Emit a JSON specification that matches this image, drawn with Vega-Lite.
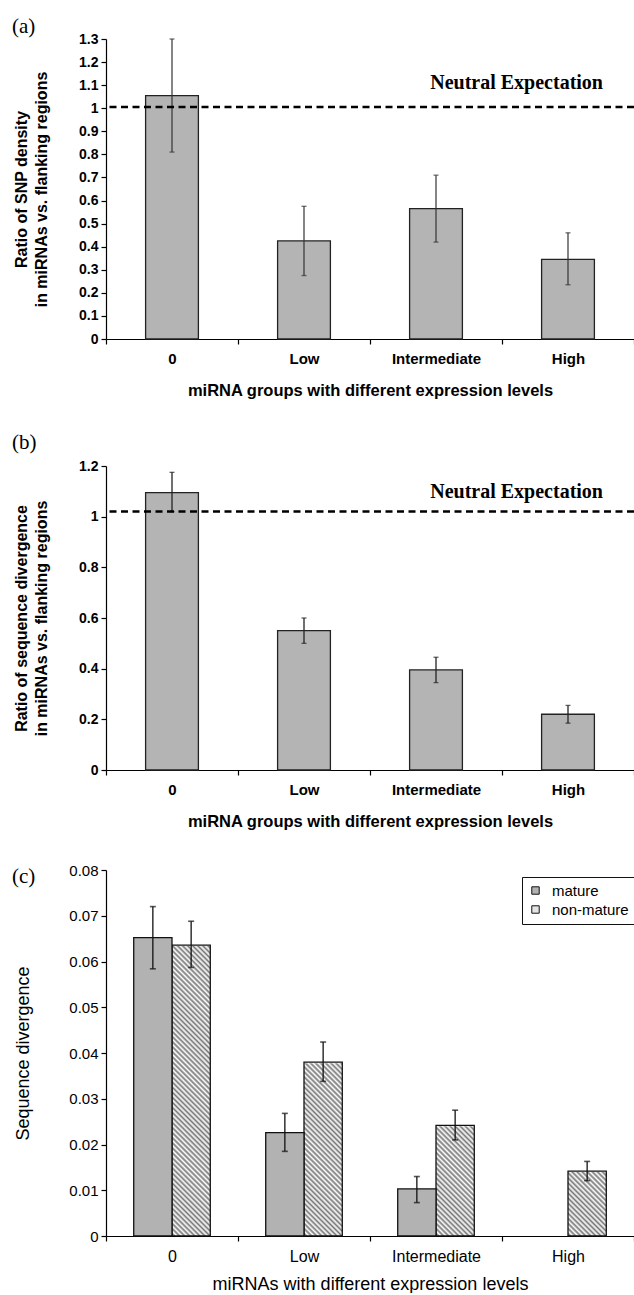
{
  "$schema": "https://vega.github.io/schema/vega-lite/v6.json",
  "padding": {"left": 12, "top": 16, "right": 0, "bottom": 0},
  "spacing": 33,
  "resolve": {"legend": {"color": "independent"}, "scale": {"color": "independent"}},
  "config": {
    "view": {"stroke": null},
    "font": "Liberation Sans",
    "axis": {"domainColor": "black", "tickColor": "black", "labelColor": "black", "titleColor": "black", "grid": false, "domainWidth": 1.2, "tickWidth": 1.2}
  },
  "vconcat": [
    {
      "title": {"text": "(a)", "anchor": "start", "frame": "group", "dx": -94, "font": "Liberation Serif", "fontSize": 21, "fontWeight": "normal", "offset": -5, "color": "black"},
      "width": 528,
      "height": 300,
      "layer": [
        {
          "data": {"values": [
            {"group": "0", "ratio": 1.055, "lo": 0.81, "hi": 1.30},
            {"group": "Low", "ratio": 0.425, "lo": 0.275, "hi": 0.575},
            {"group": "Intermediate", "ratio": 0.565, "lo": 0.42, "hi": 0.71},
            {"group": "High", "ratio": 0.345, "lo": 0.235, "hi": 0.46}
          ]},
          "layer": [
            {
              "mark": {"type": "bar", "width": {"band": 0.4}, "fill": "#b4b4b4", "stroke": "#222", "strokeWidth": 1.3},
              "encoding": {
                "x": {"field": "group", "type": "nominal", "sort": null,
                  "scale": {"domain": ["0", "Low", "Intermediate", "High"], "paddingInner": 0, "paddingOuter": 0},
                  "axis": {"title": "miRNA groups with different expression levels", "labelAngle": 0, "tickBand": "extent", "tickSize": 5, "labelPadding": 7, "labelFontSize": 15, "labelFontWeight": "bold", "titleFontSize": 16.5, "titleFontWeight": "bold", "titlePadding": 16}},
                "y": {"field": "ratio", "type": "quantitative",
                  "scale": {"domain": [0, 1.3], "nice": false, "zero": true},
                  "axis": {"title": ["Ratio of SNP density", "in miRNAs vs. flanking regions"], "values": [0, 0.1, 0.2, 0.3, 0.4, 0.5, 0.6, 0.7, 0.8, 0.9, 1, 1.1, 1.2, 1.3], "format": ".1~f", "labelFontSize": 14, "labelFontWeight": "bold", "titleFontSize": 16, "titleFontWeight": "bold", "titleLineHeight": 20, "titlePadding": 29, "tickSize": 5, "labelPadding": 3}}
              }
            },
            {
              "mark": {"type": "rule", "stroke": "#333", "strokeWidth": 1.2},
              "encoding": {
                "x": {"field": "group", "type": "nominal", "sort": null},
                "y": {"field": "lo", "type": "quantitative",
                  "axis": {"title": ["Ratio of SNP density", "in miRNAs vs. flanking regions"], "values": [0, 0.1, 0.2, 0.3, 0.4, 0.5, 0.6, 0.7, 0.8, 0.9, 1, 1.1, 1.2, 1.3], "format": ".1~f", "labelFontSize": 14, "labelFontWeight": "bold", "titleFontSize": 16, "titleFontWeight": "bold", "titleLineHeight": 20, "titlePadding": 29, "tickSize": 5, "labelPadding": 3}},
                "y2": {"field": "hi"}
              }
            },
            {
              "mark": {"type": "tick", "orient": "horizontal", "size": 5, "thickness": 1.3, "color": "#333"},
              "encoding": {
                "x": {"field": "group", "type": "nominal", "sort": null},
                "y": {"field": "lo", "type": "quantitative",
                  "axis": {"title": ["Ratio of SNP density", "in miRNAs vs. flanking regions"], "values": [0, 0.1, 0.2, 0.3, 0.4, 0.5, 0.6, 0.7, 0.8, 0.9, 1, 1.1, 1.2, 1.3], "format": ".1~f", "labelFontSize": 14, "labelFontWeight": "bold", "titleFontSize": 16, "titleFontWeight": "bold", "titleLineHeight": 20, "titlePadding": 29, "tickSize": 5, "labelPadding": 3}}
              }
            },
            {
              "mark": {"type": "tick", "orient": "horizontal", "size": 5, "thickness": 1.3, "color": "#333"},
              "encoding": {
                "x": {"field": "group", "type": "nominal", "sort": null},
                "y": {"field": "hi", "type": "quantitative",
                  "axis": {"title": ["Ratio of SNP density", "in miRNAs vs. flanking regions"], "values": [0, 0.1, 0.2, 0.3, 0.4, 0.5, 0.6, 0.7, 0.8, 0.9, 1, 1.1, 1.2, 1.3], "format": ".1~f", "labelFontSize": 14, "labelFontWeight": "bold", "titleFontSize": 16, "titleFontWeight": "bold", "titleLineHeight": 20, "titlePadding": 29, "tickSize": 5, "labelPadding": 3}}
              }
            }
          ]
        },
        {
          "data": {"values": [{"label": "Neutral Expectation", "level": 1.005}]},
          "layer": [
            {
              "mark": {"type": "rule", "strokeDash": [7, 4.5], "strokeWidth": 2.5, "color": "black"},
              "encoding": {"y": {"field": "level", "type": "quantitative",
                "axis": {"title": ["Ratio of SNP density", "in miRNAs vs. flanking regions"], "values": [0, 0.1, 0.2, 0.3, 0.4, 0.5, 0.6, 0.7, 0.8, 0.9, 1, 1.1, 1.2, 1.3], "format": ".1~f", "labelFontSize": 14, "labelFontWeight": "bold", "titleFontSize": 16, "titleFontWeight": "bold", "titleLineHeight": 20, "titlePadding": 29, "tickSize": 5, "labelPadding": 3}}}
            },
            {
              "mark": {"type": "text", "font": "Liberation Serif", "fontWeight": "bold", "fontSize": 20, "align": "right", "baseline": "middle", "dx": 35, "dy": -24, "color": "black"},
              "encoding": {
                "x": {"datum": "High", "type": "nominal"},
                "y": {"field": "level", "type": "quantitative",
                  "axis": {"title": ["Ratio of SNP density", "in miRNAs vs. flanking regions"], "values": [0, 0.1, 0.2, 0.3, 0.4, 0.5, 0.6, 0.7, 0.8, 0.9, 1, 1.1, 1.2, 1.3], "format": ".1~f", "labelFontSize": 14, "labelFontWeight": "bold", "titleFontSize": 16, "titleFontWeight": "bold", "titleLineHeight": 20, "titlePadding": 29, "tickSize": 5, "labelPadding": 3}},
                "text": {"field": "label"}
              }
            }
          ]
        }
      ]
    },
    {
      "title": {"text": "(b)", "anchor": "start", "frame": "group", "dx": -94, "font": "Liberation Serif", "fontSize": 21, "fontWeight": "normal", "offset": 6, "color": "black"},
      "width": 528,
      "height": 304,
      "layer": [
        {
          "data": {"values": [
            {"group": "0", "ratio": 1.095, "lo": 1.02, "hi": 1.175},
            {"group": "Low", "ratio": 0.55, "lo": 0.50, "hi": 0.60},
            {"group": "Intermediate", "ratio": 0.395, "lo": 0.345, "hi": 0.445},
            {"group": "High", "ratio": 0.22, "lo": 0.185, "hi": 0.255}
          ]},
          "layer": [
            {
              "mark": {"type": "bar", "width": {"band": 0.4}, "fill": "#b4b4b4", "stroke": "#222", "strokeWidth": 1.3},
              "encoding": {
                "x": {"field": "group", "type": "nominal", "sort": null,
                  "scale": {"domain": ["0", "Low", "Intermediate", "High"], "paddingInner": 0, "paddingOuter": 0},
                  "axis": {"title": "miRNA groups with different expression levels", "labelAngle": 0, "tickBand": "extent", "tickSize": 5, "labelPadding": 7, "labelFontSize": 15, "labelFontWeight": "bold", "titleFontSize": 16.5, "titleFontWeight": "bold", "titlePadding": 16}},
                "y": {"field": "ratio", "type": "quantitative",
                  "scale": {"domain": [0, 1.2], "nice": false, "zero": true},
                  "axis": {"title": ["Ratio of sequence divergence", "in miRNAs vs. flanking regions"], "values": [0, 0.2, 0.4, 0.6, 0.8, 1, 1.2], "format": ".1~f", "labelFontSize": 14, "labelFontWeight": "bold", "titleFontSize": 16, "titleFontWeight": "bold", "titleLineHeight": 20, "titlePadding": 29, "tickSize": 5, "labelPadding": 3}}
              }
            },
            {
              "mark": {"type": "rule", "stroke": "#222", "strokeWidth": 1.3},
              "encoding": {
                "x": {"field": "group", "type": "nominal", "sort": null},
                "y": {"field": "lo", "type": "quantitative",
                  "axis": {"title": ["Ratio of sequence divergence", "in miRNAs vs. flanking regions"], "values": [0, 0.2, 0.4, 0.6, 0.8, 1, 1.2], "format": ".1~f", "labelFontSize": 14, "labelFontWeight": "bold", "titleFontSize": 16, "titleFontWeight": "bold", "titleLineHeight": 20, "titlePadding": 29, "tickSize": 5, "labelPadding": 3}},
                "y2": {"field": "hi"}
              }
            },
            {
              "mark": {"type": "tick", "orient": "horizontal", "size": 5, "thickness": 1.3, "color": "#222"},
              "encoding": {
                "x": {"field": "group", "type": "nominal", "sort": null},
                "y": {"field": "lo", "type": "quantitative",
                  "axis": {"title": ["Ratio of sequence divergence", "in miRNAs vs. flanking regions"], "values": [0, 0.2, 0.4, 0.6, 0.8, 1, 1.2], "format": ".1~f", "labelFontSize": 14, "labelFontWeight": "bold", "titleFontSize": 16, "titleFontWeight": "bold", "titleLineHeight": 20, "titlePadding": 29, "tickSize": 5, "labelPadding": 3}}
              }
            },
            {
              "mark": {"type": "tick", "orient": "horizontal", "size": 5, "thickness": 1.3, "color": "#222"},
              "encoding": {
                "x": {"field": "group", "type": "nominal", "sort": null},
                "y": {"field": "hi", "type": "quantitative",
                  "axis": {"title": ["Ratio of sequence divergence", "in miRNAs vs. flanking regions"], "values": [0, 0.2, 0.4, 0.6, 0.8, 1, 1.2], "format": ".1~f", "labelFontSize": 14, "labelFontWeight": "bold", "titleFontSize": 16, "titleFontWeight": "bold", "titleLineHeight": 20, "titlePadding": 29, "tickSize": 5, "labelPadding": 3}}
              }
            }
          ]
        },
        {
          "data": {"values": [{"label": "Neutral Expectation", "level": 1.02}]},
          "layer": [
            {
              "mark": {"type": "rule", "strokeDash": [7, 4.5], "strokeWidth": 2.5, "color": "black"},
              "encoding": {"y": {"field": "level", "type": "quantitative",
                "axis": {"title": ["Ratio of sequence divergence", "in miRNAs vs. flanking regions"], "values": [0, 0.2, 0.4, 0.6, 0.8, 1, 1.2], "format": ".1~f", "labelFontSize": 14, "labelFontWeight": "bold", "titleFontSize": 16, "titleFontWeight": "bold", "titleLineHeight": 20, "titlePadding": 29, "tickSize": 5, "labelPadding": 3}}}
            },
            {
              "mark": {"type": "text", "font": "Liberation Serif", "fontWeight": "bold", "fontSize": 20, "align": "right", "baseline": "middle", "dx": 35, "dy": -20, "color": "black"},
              "encoding": {
                "x": {"datum": "High", "type": "nominal"},
                "y": {"field": "level", "type": "quantitative",
                  "axis": {"title": ["Ratio of sequence divergence", "in miRNAs vs. flanking regions"], "values": [0, 0.2, 0.4, 0.6, 0.8, 1, 1.2], "format": ".1~f", "labelFontSize": 14, "labelFontWeight": "bold", "titleFontSize": 16, "titleFontWeight": "bold", "titleLineHeight": 20, "titlePadding": 29, "tickSize": 5, "labelPadding": 3}},
                "text": {"field": "label"}
              }
            }
          ]
        }
      ]
    },
    {
      "title": {"text": "(c)", "anchor": "start", "frame": "group", "dx": -94, "font": "Liberation Serif", "fontSize": 21, "fontWeight": "normal", "offset": -24, "color": "black"},
      "width": 528,
      "height": 366,
      "data": {"values": [
        {"group": "0", "type": "mature", "value": 0.0652, "lo": 0.0584, "hi": 0.0720},
        {"group": "0", "type": "non-mature", "value": 0.0636, "lo": 0.0587, "hi": 0.0688},
        {"group": "Low", "type": "mature", "value": 0.0226, "lo": 0.0185, "hi": 0.0268},
        {"group": "Low", "type": "non-mature", "value": 0.0380, "lo": 0.0338, "hi": 0.0424},
        {"group": "Intermediate", "type": "mature", "value": 0.0103, "lo": 0.0073, "hi": 0.0130},
        {"group": "Intermediate", "type": "non-mature", "value": 0.0242, "lo": 0.0210, "hi": 0.0275},
        {"group": "High", "type": "non-mature", "value": 0.0142, "lo": 0.0121, "hi": 0.0163}
      ]},
      "encoding": {
        "x": {"field": "group", "type": "nominal", "sort": null,
          "scale": {"domain": ["0", "Low", "Intermediate", "High"], "paddingInner": 0, "paddingOuter": 0},
          "axis": {"title": "miRNAs with different expression levels", "labelAngle": 0, "tickBand": "extent", "tickSize": 5, "labelPadding": 7, "labelFontSize": 16, "titleFontSize": 18, "titleFontWeight": "normal", "titlePadding": 11}},
        "xOffset": {"field": "type", "type": "nominal", "scale": {"domain": ["mature", "non-mature"], "paddingInner": 0, "paddingOuter": 0.724}}
      },
      "layer": [
        {
          "transform": [{"filter": "datum.type === 'non-mature'"}],
          "mark": {"type": "bar", "strokeWidth": 0, "fill": {"gradient": "linear", "x1": 0, "y1": 1, "x2": 0.114, "y2": -0.093, "stops": [
            {"offset": 0, "color": "#fff"}, {"offset": 0.00625, "color": "#777"}, {"offset": 0.0125, "color": "#fff"}, {"offset": 0.01875, "color": "#777"}, {"offset": 0.025, "color": "#fff"}, {"offset": 0.03125, "color": "#777"}, {"offset": 0.0375, "color": "#fff"}, {"offset": 0.04375, "color": "#777"}, {"offset": 0.05, "color": "#fff"}, {"offset": 0.05625, "color": "#777"}, {"offset": 0.0625, "color": "#fff"}, {"offset": 0.06875, "color": "#777"}, {"offset": 0.075, "color": "#fff"}, {"offset": 0.08125, "color": "#777"}, {"offset": 0.0875, "color": "#fff"}, {"offset": 0.09375, "color": "#777"},
            {"offset": 0.1, "color": "#fff"}, {"offset": 0.10625, "color": "#777"}, {"offset": 0.1125, "color": "#fff"}, {"offset": 0.11875, "color": "#777"}, {"offset": 0.125, "color": "#fff"}, {"offset": 0.13125, "color": "#777"}, {"offset": 0.1375, "color": "#fff"}, {"offset": 0.14375, "color": "#777"}, {"offset": 0.15, "color": "#fff"}, {"offset": 0.15625, "color": "#777"}, {"offset": 0.1625, "color": "#fff"}, {"offset": 0.16875, "color": "#777"}, {"offset": 0.175, "color": "#fff"}, {"offset": 0.18125, "color": "#777"}, {"offset": 0.1875, "color": "#fff"}, {"offset": 0.19375, "color": "#777"},
            {"offset": 0.2, "color": "#fff"}, {"offset": 0.20625, "color": "#777"}, {"offset": 0.2125, "color": "#fff"}, {"offset": 0.21875, "color": "#777"}, {"offset": 0.225, "color": "#fff"}, {"offset": 0.23125, "color": "#777"}, {"offset": 0.2375, "color": "#fff"}, {"offset": 0.24375, "color": "#777"}, {"offset": 0.25, "color": "#fff"}, {"offset": 0.25625, "color": "#777"}, {"offset": 0.2625, "color": "#fff"}, {"offset": 0.26875, "color": "#777"}, {"offset": 0.275, "color": "#fff"}, {"offset": 0.28125, "color": "#777"}, {"offset": 0.2875, "color": "#fff"}, {"offset": 0.29375, "color": "#777"},
            {"offset": 0.3, "color": "#fff"}, {"offset": 0.30625, "color": "#777"}, {"offset": 0.3125, "color": "#fff"}, {"offset": 0.31875, "color": "#777"}, {"offset": 0.325, "color": "#fff"}, {"offset": 0.33125, "color": "#777"}, {"offset": 0.3375, "color": "#fff"}, {"offset": 0.34375, "color": "#777"}, {"offset": 0.35, "color": "#fff"}, {"offset": 0.35625, "color": "#777"}, {"offset": 0.3625, "color": "#fff"}, {"offset": 0.36875, "color": "#777"}, {"offset": 0.375, "color": "#fff"}, {"offset": 0.38125, "color": "#777"}, {"offset": 0.3875, "color": "#fff"}, {"offset": 0.39375, "color": "#777"},
            {"offset": 0.4, "color": "#fff"}, {"offset": 0.40625, "color": "#777"}, {"offset": 0.4125, "color": "#fff"}, {"offset": 0.41875, "color": "#777"}, {"offset": 0.425, "color": "#fff"}, {"offset": 0.43125, "color": "#777"}, {"offset": 0.4375, "color": "#fff"}, {"offset": 0.44375, "color": "#777"}, {"offset": 0.45, "color": "#fff"}, {"offset": 0.45625, "color": "#777"}, {"offset": 0.4625, "color": "#fff"}, {"offset": 0.46875, "color": "#777"}, {"offset": 0.475, "color": "#fff"}, {"offset": 0.48125, "color": "#777"}, {"offset": 0.4875, "color": "#fff"}, {"offset": 0.49375, "color": "#777"},
            {"offset": 0.5, "color": "#fff"}, {"offset": 0.50625, "color": "#777"}, {"offset": 0.5125, "color": "#fff"}, {"offset": 0.51875, "color": "#777"}, {"offset": 0.525, "color": "#fff"}, {"offset": 0.53125, "color": "#777"}, {"offset": 0.5375, "color": "#fff"}, {"offset": 0.54375, "color": "#777"}, {"offset": 0.55, "color": "#fff"}, {"offset": 0.55625, "color": "#777"}, {"offset": 0.5625, "color": "#fff"}, {"offset": 0.56875, "color": "#777"}, {"offset": 0.575, "color": "#fff"}, {"offset": 0.58125, "color": "#777"}, {"offset": 0.5875, "color": "#fff"}, {"offset": 0.59375, "color": "#777"},
            {"offset": 0.6, "color": "#fff"}, {"offset": 0.60625, "color": "#777"}, {"offset": 0.6125, "color": "#fff"}, {"offset": 0.61875, "color": "#777"}, {"offset": 0.625, "color": "#fff"}, {"offset": 0.63125, "color": "#777"}, {"offset": 0.6375, "color": "#fff"}, {"offset": 0.64375, "color": "#777"}, {"offset": 0.65, "color": "#fff"}, {"offset": 0.65625, "color": "#777"}, {"offset": 0.6625, "color": "#fff"}, {"offset": 0.66875, "color": "#777"}, {"offset": 0.675, "color": "#fff"}, {"offset": 0.68125, "color": "#777"}, {"offset": 0.6875, "color": "#fff"}, {"offset": 0.69375, "color": "#777"},
            {"offset": 0.7, "color": "#fff"}, {"offset": 0.70625, "color": "#777"}, {"offset": 0.7125, "color": "#fff"}, {"offset": 0.71875, "color": "#777"}, {"offset": 0.725, "color": "#fff"}, {"offset": 0.73125, "color": "#777"}, {"offset": 0.7375, "color": "#fff"}, {"offset": 0.74375, "color": "#777"}, {"offset": 0.75, "color": "#fff"}, {"offset": 0.75625, "color": "#777"}, {"offset": 0.7625, "color": "#fff"}, {"offset": 0.76875, "color": "#777"}, {"offset": 0.775, "color": "#fff"}, {"offset": 0.78125, "color": "#777"}, {"offset": 0.7875, "color": "#fff"}, {"offset": 0.79375, "color": "#777"},
            {"offset": 0.8, "color": "#fff"}, {"offset": 0.80625, "color": "#777"}, {"offset": 0.8125, "color": "#fff"}, {"offset": 0.81875, "color": "#777"}, {"offset": 0.825, "color": "#fff"}, {"offset": 0.83125, "color": "#777"}, {"offset": 0.8375, "color": "#fff"}, {"offset": 0.84375, "color": "#777"}, {"offset": 0.85, "color": "#fff"}, {"offset": 0.85625, "color": "#777"}, {"offset": 0.8625, "color": "#fff"}, {"offset": 0.86875, "color": "#777"}, {"offset": 0.875, "color": "#fff"}, {"offset": 0.88125, "color": "#777"}, {"offset": 0.8875, "color": "#fff"}, {"offset": 0.89375, "color": "#777"},
            {"offset": 0.9, "color": "#fff"}, {"offset": 0.90625, "color": "#777"}, {"offset": 0.9125, "color": "#fff"}, {"offset": 0.91875, "color": "#777"}, {"offset": 0.925, "color": "#fff"}, {"offset": 0.93125, "color": "#777"}, {"offset": 0.9375, "color": "#fff"}, {"offset": 0.94375, "color": "#777"}, {"offset": 0.95, "color": "#fff"}, {"offset": 0.95625, "color": "#777"}, {"offset": 0.9625, "color": "#fff"}, {"offset": 0.96875, "color": "#777"}, {"offset": 0.975, "color": "#fff"}, {"offset": 0.98125, "color": "#777"}, {"offset": 0.9875, "color": "#fff"}, {"offset": 0.99375, "color": "#777"},
            {"offset": 1, "color": "#fff"}
          ]}},
          "encoding": {
            "y": {"datum": 0.08, "type": "quantitative"},
            "y2": {"datum": 0}
          }
        },
        {
          "transform": [{"filter": "datum.type === 'non-mature'"}],
          "mark": {"type": "bar", "fill": "white", "stroke": "white", "strokeWidth": 2},
          "encoding": {
            "y": {"field": "value", "type": "quantitative"},
            "y2": {"datum": 0.08}
          }
        },
        {
          "transform": [{"filter": "datum.type === 'non-mature'"}],
          "mark": {"type": "bar", "fill": null, "fillOpacity": 0, "stroke": "#111", "strokeWidth": 1.3},
          "encoding": {
            "y": {"field": "value", "type": "quantitative"}
          }
        },
        {
          "transform": [{"filter": "datum.type === 'mature'"}],
          "mark": {"type": "bar", "stroke": "#111", "strokeWidth": 1.3},
          "encoding": {
            "y": {"field": "value", "type": "quantitative",
              "scale": {"domain": [0, 0.08], "nice": false},
              "axis": {"title": "Sequence divergence", "values": [0, 0.01, 0.02, 0.03, 0.04, 0.05, 0.06, 0.07, 0.08], "format": ".2~f", "labelFontSize": 15, "titleFontSize": 18, "titleFontWeight": "normal", "titlePadding": 36, "tickSize": 5, "labelPadding": 3}},
            "color": {"field": "type", "type": "nominal",
              "scale": {"domain": ["mature", "non-mature"], "range": ["#b2b2b2", "#e4e4e4"]},
              "legend": {"title": null, "orient": "none", "legendX": 416, "legendY": 7, "symbolType": "square", "symbolSize": 55, "symbolStrokeColor": "#111", "symbolStrokeWidth": 1, "labelFontSize": 15, "labelColor": "black", "strokeColor": "#111", "fillColor": "white", "padding": 6, "rowPadding": 3, "labelOffset": 9}}
          }
        },
        {
          "mark": {"type": "rule", "stroke": "#111", "strokeWidth": 1.3},
          "encoding": {
            "y": {"field": "lo", "type": "quantitative"},
            "y2": {"field": "hi"}
          }
        },
        {
          "mark": {"type": "tick", "orient": "horizontal", "size": 6, "thickness": 1.6, "color": "#111"},
          "encoding": {
            "y": {"field": "lo", "type": "quantitative"}
          }
        },
        {
          "mark": {"type": "tick", "orient": "horizontal", "size": 6, "thickness": 1.6, "color": "#111"},
          "encoding": {
            "y": {"field": "hi", "type": "quantitative"}
          }
        }
      ]
    }
  ]
}
